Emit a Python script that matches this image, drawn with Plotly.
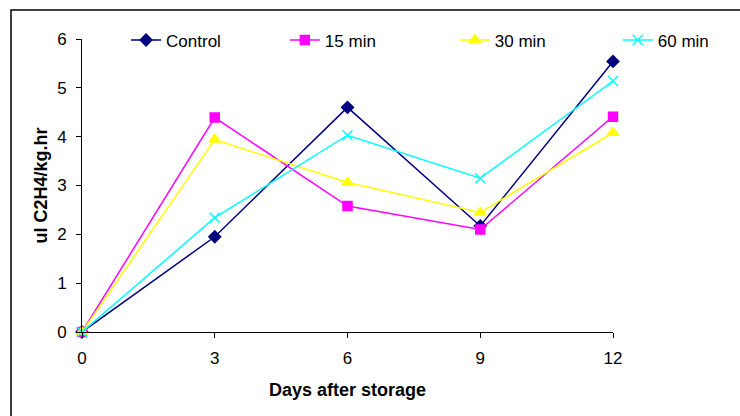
import plotly.graph_objects as go

days = [0, 3, 6, 9, 12]
control = [0, 1.95, 4.60, 2.17, 5.54]
min15 = [0, 4.39, 2.58, 2.10, 4.41]
min30 = [0, 3.94, 3.06, 2.45, 4.08]
min60 = [0, 2.34, 4.03, 3.15, 5.14]
names = ["Control", "15 min", "30 min", "60 min"]
series = [control, min15, min30, min60]
colors = ["#000080", "#FF00FF", "#FFFF00", "#00FFFF"]
symbols = ["diamond", "square", "triangle-up", "x-thin"]
sizes = [9, 9, 10, 10]
legend_x = [0.083, 0.382, 0.702, 1.009]
y_ticks = [0, 1, 2, 3, 4, 5, 6]
x_ticks = [0, 3, 6, 9, 12]

fig = go.Figure()
for i, (nm, ys) in enumerate(zip(names, series)):
    lg = "legend" if i == 0 else f"legend{i+1}"
    fig.add_trace(go.Scatter(
        x=days, y=ys, name=nm, mode="lines+markers",
        line=dict(color=colors[i], width=1.5),
        marker=dict(symbol=symbols[i], size=sizes[i], color=colors[i],
                    line=dict(color=colors[i], width=1.5)),
        cliponaxis=False, legend=lg,
    ))

leg_common = dict(orientation="h", yanchor="middle", xanchor="left", y=0.995,
                  bgcolor="rgba(0,0,0,0)", font=dict(family="Arial", size=17, color="black"))
layout_legends = {}
for i in range(4):
    key = "legend" if i == 0 else f"legend{i+1}"
    layout_legends[key] = dict(x=legend_x[i], **leg_common)

fig.update_layout(
    width=740, height=416,
    margin=dict(l=82, r=127, t=39, b=84),
    paper_bgcolor="white", plot_bgcolor="white",
    font=dict(family="Arial", size=17, color="black"),
    showlegend=True,
    xaxis=dict(range=[0, 12], tickvals=x_ticks, showgrid=False, zeroline=False,
               showline=True, linecolor="black", linewidth=1, ticks="outside",
               ticklen=5, tickcolor="black", tickfont=dict(size=17),
               ticklabelstandoff=6),
    yaxis=dict(range=[0, 6], tickvals=y_ticks, showgrid=False, zeroline=False,
               showline=True, linecolor="black", linewidth=1, ticks="outside",
               ticklen=5, tickcolor="black", tickfont=dict(size=17),
               ticklabelstandoff=6),
    annotations=[
        dict(text="<b>Days after storage</b>", xref="paper", yref="paper",
             x=0.5, y=-0.198, xanchor="center", yanchor="middle", showarrow=False,
             font=dict(size=18)),
        dict(text="<b>ul C2H4/kg.hr</b>", xref="paper", yref="paper",
             x=(40 - 82) / 531, y=0.5, xanchor="center", yanchor="middle",
             textangle=-90, showarrow=False, font=dict(size=18)),
    ],
    shapes=[dict(type="rect", xref="paper", yref="paper",
                 x0=(11 - 82) / 531, x1=1.4, y0=-0.5, y1=(332 - 10) / 293,
                 line=dict(color="black", width=1.5), fillcolor="rgba(0,0,0,0)",
                 layer="below")],
    **layout_legends,
)

fig.write_html("out.html")
